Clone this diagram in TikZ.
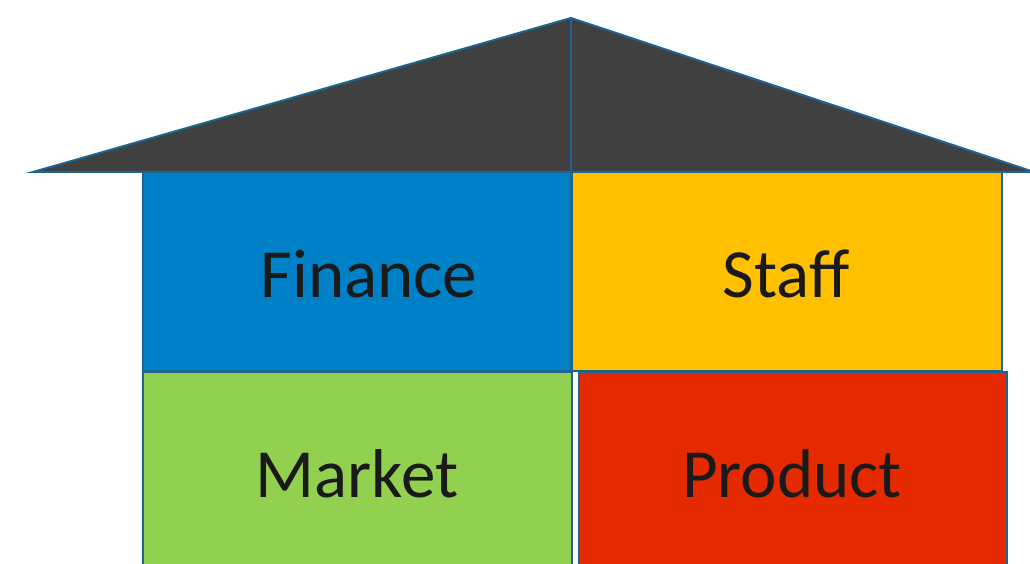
\documentclass[tikz,border=0pt]{standalone}
\usepackage{fontspec}
\setmainfont{Carlito}
\definecolor{roofgray}{HTML}{404040}
\definecolor{edgeblue}{HTML}{1F6391}
\definecolor{finblue}{HTML}{0080C6}
\definecolor{staffyellow}{HTML}{FFC000}
\definecolor{marketgreen}{HTML}{92D050}
\definecolor{productred}{HTML}{E62A00}
\definecolor{labeltext}{HTML}{1A1A1A}
\tikzset{
  edge/.style={draw=edgeblue, line width=2pt, line join=miter},
  lbl/.style={text=labeltext, font=\fontsize{69}{80}\selectfont, inner sep=0pt, anchor=base}
}
\begin{document}
\begin{tikzpicture}[x=1pt,y=-1pt]
\useasboundingbox (0,0) rectangle (1030,564);
\clip (0,0) rectangle (1030,564);
% boxes
\path[edge, fill=finblue] (143,172) rectangle (571,371);
\path[edge, fill=staffyellow] (572,172) rectangle (1002,371);
\path[edge, fill=marketgreen] (143,372) rectangle (572,580);
\path[edge, fill=productred] (579,372) rectangle (1007,580);
% roof
\coordinate (rl) at (33,172);
\coordinate (apex) at (571,18);
\coordinate (rr) at (1034,172);
\coordinate (rm) at (571,172);
\path[edge, fill=roofgray] (rl) -- (apex) -- (rr) -- cycle;
\draw[edge] (apex) -- (rm);
% labels
\node[lbl] (fin) at (369,297) {Finance};
\node[lbl] (staff) at (786,297) {Staff};
\node[lbl] (market) at (357,497) {Market};
\node[lbl] (product) at (792,497) {Product};
\end{tikzpicture}
\end{document}
